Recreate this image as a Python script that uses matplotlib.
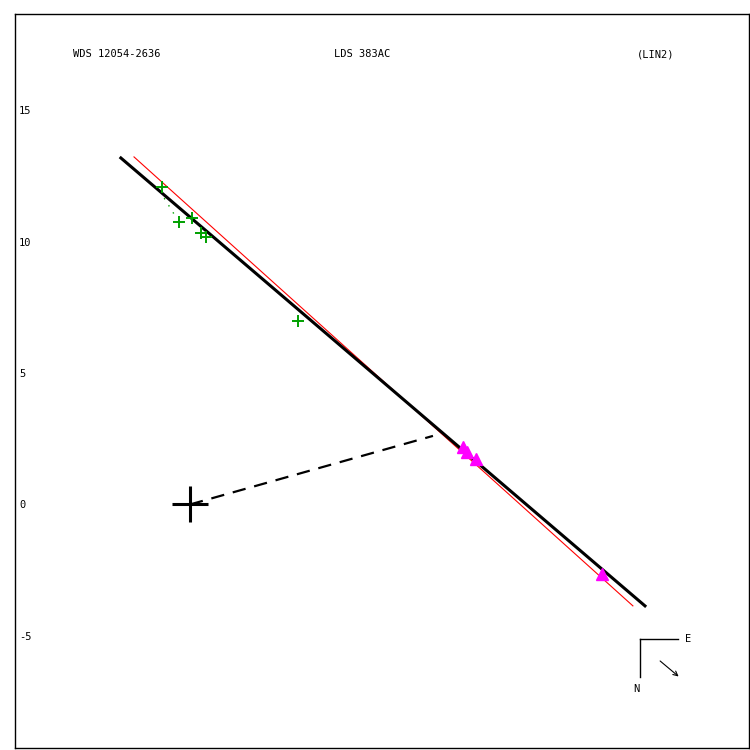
import matplotlib
matplotlib.use("Agg")
import matplotlib.pyplot as plt
import numpy as np

# header texts
title_left = "WDS 12054-2636"
title_mid = "LDS 383AC"
title_right = "(LIN2)"

# y axis ticks
yticks = [-5, 0, 5, 10, 15]

# observed positions (green crosses)
obs_x = [-1.08, -0.41, 0.09, 0.42, 0.60, 4.12]
obs_y = [12.10, 10.74, 10.89, 10.32, 10.19, 7.00]

# small dotted residual
res_x = [-0.98, -0.56]
res_y = [11.66, 10.98]

# magenta triangles
tri_x = [10.39, 10.54, 10.89, 15.68]
tri_y = [2.19, 2.00, 1.73, -2.65]

# fitted linear motion (black) and second solution (red)
fit_x = [-2.63, 17.32]
fit_y = [13.19, -3.86]
red_x = [-2.13, 16.86]
red_y = [13.23, -3.86]

# dashed line from primary to closest point
dash_x = [0.0, 9.25]
dash_y = [0.0, 2.61]

fnt = "DejaVu Sans Mono"
fs = 7.5

fig = plt.figure(figsize=(7.5, 7.5), dpi=100)
ax = fig.add_axes([15/750, 2/750, 734/750, 734/750])

ax.plot(red_x, red_y, color="#ff0000", lw=0.8, zorder=2)
ax.plot(fit_x, fit_y, color="black", lw=2.2, zorder=3)
ax.plot(dash_x, dash_y, color="black", lw=1.6, dashes=(6, 4), zorder=3)
ax.plot(res_x, res_y, color="#00a000", lw=1.0, ls=(0, (1, 5)), zorder=3)
ax.plot(obs_x, obs_y, "+", color="#00a000", ms=9, mew=1.4, zorder=4)
ax.plot(tri_x, tri_y, "^", color="#ff00ff", ms=8, mec="#ff00ff", zorder=4)
ax.plot([0], [0], "+", color="black", ms=26, mew=2.2, zorder=5)

ax.set_xlim(-6.66, 21.28)
ax.set_ylim(-9.27, 18.67)
ax.set_xticks([])
ax.set_yticks(yticks)
ax.set_yticklabels([str(t) for t in yticks], fontsize=fs, family=fnt)
ax.tick_params(axis="y", length=0, pad=-3)
for lab in ax.get_yticklabels():
    lab.set_ha("left")
for s in ax.spines.values():
    s.set_linewidth(1.0)

# header
ax.text(0.138, 0.9455, title_left, transform=ax.transAxes, ha="center", va="center", fontsize=fs, family=fnt)
ax.text(0.473, 0.9455, title_mid, transform=ax.transAxes, ha="center", va="center", fontsize=fs, family=fnt)
ax.text(0.873, 0.9455, title_right, transform=ax.transAxes, ha="center", va="center", fontsize=fs, family=fnt)

# compass
ax.plot([0.852, 0.852], [0.148, 0.097], color="black", lw=1.0, transform=ax.transAxes)
ax.plot([0.852, 0.903], [0.148, 0.148], color="black", lw=1.0, transform=ax.transAxes)
ax.text(0.917, 0.149, "E", transform=ax.transAxes, ha="center", va="center", fontsize=fs, family=fnt)
ax.text(0.847, 0.080, "N", transform=ax.transAxes, ha="center", va="center", fontsize=fs, family=fnt)
ax.annotate("", xy=(0.907, 0.095), xytext=(0.876, 0.121), xycoords="axes fraction",
            arrowprops=dict(arrowstyle="->", lw=0.8, color="black", mutation_scale=8))

fig.savefig("out.png", dpi=100)
